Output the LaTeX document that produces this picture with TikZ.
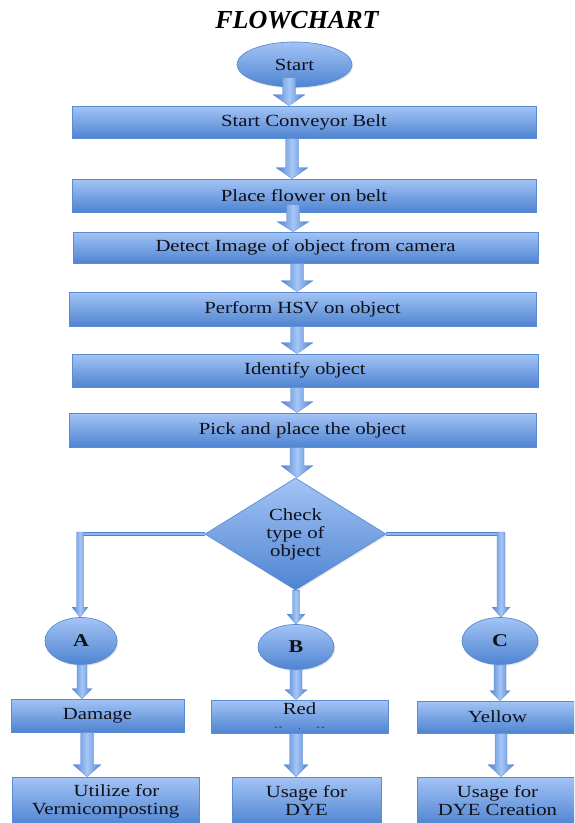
\documentclass[tikz,border=0pt]{standalone}
\usepackage{fontspec}
\setmainfont{Liberation Serif}
\newfontfamily\boxfont{Liberation Serif}[FakeStretch=1.22]
\usetikzlibrary{shapes.geometric,shadows,calc}
\definecolor{boxtop}{HTML}{A3C4F5}
\definecolor{boxbot}{HTML}{4F84D2}
\definecolor{boxedge}{HTML}{5A8BD3}
\definecolor{arrdark}{HTML}{4E82D0}
\definecolor{arrlight}{HTML}{A6C6F6}
\definecolor{txt}{HTML}{101018}
% block arrow: #1 x (pt), #2 start, #3 tip point, #4 shaft half width, #5 head half width, #6 head length
\newcommand\barrow[6]{\path[arrowshade] let \p1=(#2), \p2=(#3) in
  ({#1pt-#4pt},\y1) -- ({#1pt+#4pt},\y1) -- ({#1pt+#4pt},\y2+#6pt) -- ({#1pt+#5pt},\y2+#6pt)
  -- (#1pt,\y2) -- ({#1pt-#5pt},\y2+#6pt) -- ({#1pt-#4pt},\y2+#6pt) -- cycle;}
\begin{document}
\begin{tikzpicture}[x=1pt,y=-1pt,
  shapebase/.style={top color=boxtop, bottom color=boxbot, draw=boxedge, line width=0.7pt,
    text=txt, inner sep=0pt, font=\boxfont\fontsize{17}{18}\selectfont,
    drop shadow={shadow xshift=1.2pt,shadow yshift=-1.4pt,opacity=0.2}},
  procbox/.style={shapebase, rectangle, align=center},
  oval/.style={shapebase, ellipse},
  decision/.style={shapebase, diamond, align=center},
  arrowshade/.style={left color=arrdark, right color=arrdark, middle color=arrlight, draw=boxedge, line width=0.3pt},
  branchline/.style={draw=arrdark, line width=0.9pt, double=boxtop!80!arrdark, double distance=1.4pt},
]
\fill[white] (0,0) rectangle (574,823);
\useasboundingbox (0,0) rectangle (574,823);
\clip (0,0) rectangle (574,823);

\node[font=\fontsize{26}{28}\selectfont\bfseries\itshape, text=black] (title) at (297,20) {FLOWCHART};

\node[oval, minimum width=115pt, minimum height=45pt] (s0) at (294.5,64.5) {Start};
\node[procbox, minimum width=464pt, minimum height=32pt] (b1) at (304,122) {Start Conveyor Belt};
\node[procbox, minimum width=464pt, minimum height=33pt] (b2) at (304,195.5) {Place flower on belt};
\node[procbox, minimum width=465pt, minimum height=31pt] (b3) at (305.5,247.5) {Detect Image of object from camera};
\node[procbox, minimum width=467pt, minimum height=34pt] (b4) at (302.5,309) {Perform HSV on object};
\node[procbox, minimum width=466pt, minimum height=33pt] (b5) at (305,370.5) {Identify object};
\node[procbox, minimum width=467pt, minimum height=34pt] (b6) at (302.5,430) {Pick and place the object};
\node[decision, minimum width=181pt, minimum height=112pt] (dia) at (295.5,534) {Check\\type of\\object};

\coordinate (la) at (80,534);
\coordinate (ra) at (501,534);

\node[oval, minimum width=72pt, minimum height=47pt, font=\boxfont\bfseries\fontsize{18}{18}\selectfont] (A) at (81,641) {A};
\node[oval, minimum width=76pt, minimum height=45pt, font=\boxfont\bfseries\fontsize{18}{18}\selectfont] (B) at (296,647) {B};
\node[oval, minimum width=76pt, minimum height=47pt, font=\boxfont\bfseries\fontsize{18}{18}\selectfont] (C) at (500,641) {C};

\node[procbox, minimum width=173pt, minimum height=33pt] (d1) at (97.5,715.5) {Damage};
\node[procbox, minimum width=177pt, minimum height=33pt] (r1) at (299.5,716.5)
  {Red\\[-3pt]{\fontsize{8}{8}\selectfont -\,-\hspace{16pt}.\hspace{16pt}-\,-}};
\node[procbox, minimum width=161pt, minimum height=32pt] (y1) at (497.5,717) {Yellow};

\node[procbox, minimum width=187pt, minimum height=48pt] (d2) at (105.5,801) {\hspace*{22pt}Utilize for\\Vermicomposting};
\node[procbox, minimum width=149pt, minimum height=48pt] (r2) at (306.5,801) {Usage for\\DYE};
\node[procbox, minimum width=161pt, minimum height=48pt] (y2) at (497.5,801) {Usage for\\DYE Creation};

% main column arrows
\barrow{289}{$(s0.south)+(0,-10)$}{b1.north}{6.5}{16}{11}
\barrow{292}{b1.south}{b2.north}{6.5}{16}{11}
\barrow{293}{$(b2.south)+(0,-8)$}{b3.north}{6.5}{16}{10}
\barrow{297}{b3.south}{b4.north}{6.5}{16}{11}
\barrow{297}{b4.south}{b5.north}{6.5}{16}{11}
\barrow{297}{b5.south}{b6.north}{6.5}{16}{11}
\barrow{297}{b6.south}{dia.north}{7}{16}{12}

% branches
\draw[branchline] (dia.west) -- (la);
\draw[branchline] (dia.east) -- (ra);
\barrow{80}{$(la)+(0,-2)$}{A.north}{3.5}{8}{10}
\barrow{296}{dia.south}{B.north}{3.5}{9}{10}
\barrow{501}{$(ra)+(0,-2)$}{C.north}{4}{9}{10}

\barrow{82}{A.south}{d1.north}{5}{10}{10}
\barrow{87}{d1.south}{d2.north}{6.5}{14}{12}
\barrow{296}{B.south}{r1.north}{6}{11}{10}
\barrow{296}{r1.south}{r2.north}{6.5}{12}{12}
\barrow{500}{C.south}{y1.north}{6}{10}{10}
\barrow{501}{y1.south}{y2.north}{6}{13}{12}
\end{tikzpicture}
\end{document}
